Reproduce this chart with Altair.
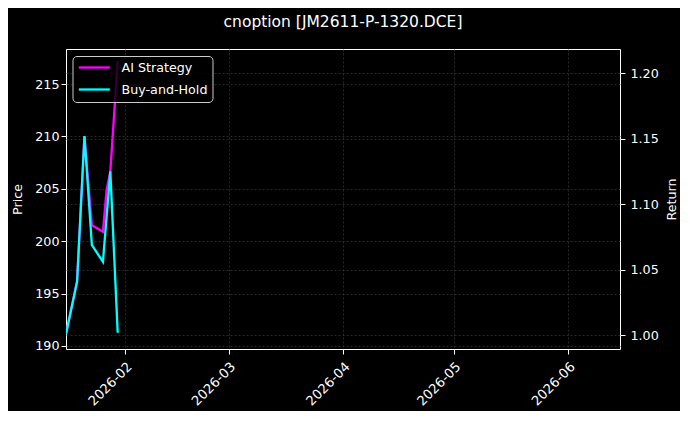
import altair as alt
import pandas as pd

# AI Strategy cumulative return
ai_dates = ["2026-01-16", "2026-01-19", "2026-01-21", "2026-01-23",
            "2026-01-26", "2026-01-27", "2026-01-28", "2026-01-30"]
ai_values = [1.001, 1.041, 1.152, 1.084, 1.079, 1.111, 1.125, 1.209]

# Buy-and-Hold cumulative return
bh_dates = ["2026-01-16", "2026-01-19", "2026-01-21", "2026-01-23",
            "2026-01-26", "2026-01-28", "2026-01-30"]
bh_values = [1.001, 1.041, 1.152, 1.069, 1.056, 1.125, 1.002]

series_names = ["AI Strategy", "Buy-and-Hold"]
series_colors = ["#ff00ff", "#00ffff"]

month_ticks = [2, 3, 4, 5, 6]

df = pd.concat([
    pd.DataFrame({"date": ai_dates, "value": ai_values, "series": series_names[0]}),
    pd.DataFrame({"date": bh_dates, "value": bh_values, "series": series_names[1]}),
], ignore_index=True)

FONT = "DejaVu Sans"
GRID = "#333333"

x_enc = alt.X(
    "date:T",
    scale=alt.Scale(
        type="utc",
        domain=[alt.DateTime(year=2026, month=1, date=16, utc=True),
                alt.DateTime(year=2026, month=6, date=15, utc=True)],
    ),
    axis=alt.Axis(
        values=[alt.DateTime(year=2026, month=m, date=1, utc=True) for m in month_ticks],
        labelExpr="utcFormat(datum.value, '%Y-%m')", labelAngle=-45, labelAlign="right",
        labelBaseline="top", title=None, grid=True, labelPadding=6,
        labelFontSize=13.2,
    ),
)

color_enc = alt.Color(
    "series:N",
    scale=alt.Scale(domain=series_names, range=series_colors),
    legend=alt.Legend(
        orient="none", legendX=6.5, legendY=7, title=None,
        symbolType="M-1,0H5", symbolSize=107, symbolStrokeWidth=2.3,
        labelFontSize=12.7, labelColor="white", labelFont=FONT,
        labelOffset=31, padding=5, rowPadding=8,
        strokeColor="#cccccc", fillColor="rgba(0,0,0,0.8)", cornerRadius=4,
    ),
)

ret_scale = alt.Scale(domain=[0.9896, 1.2183], nice=False, zero=False)
ret_axis = alt.Axis(orient="right", title="Return", values=[1.0, 1.05, 1.1, 1.15, 1.2],
                    format=".2f", grid=True, titlePadding=7, titleAngle=270,
                    titleBaseline="top", labelPadding=5)

base = alt.Chart(df)
ai_line = base.transform_filter(alt.datum.series == series_names[0]).mark_line(
    strokeWidth=2.3, clip=True
).encode(x=x_enc, y=alt.Y("value:Q", scale=ret_scale, axis=ret_axis), color=color_enc)
bh_line = base.transform_filter(alt.datum.series == series_names[1]).mark_line(
    strokeWidth=2.3, clip=True
).encode(x=x_enc, y=alt.Y("value:Q", scale=ret_scale, axis=ret_axis), color=color_enc)

returns = alt.layer(ai_line, bh_line)

price_axis_layer = alt.Chart(pd.DataFrame({"p": [200]})).mark_point(opacity=0).encode(
    y=alt.Y("p:Q", scale=alt.Scale(domain=[189.7, 218.35], nice=False, zero=False),
            axis=alt.Axis(orient="left", title="Price", values=[190, 195, 200, 205, 210, 215],
                          grid=True, titlePadding=10)),
)

chart = alt.layer(price_axis_layer, returns).resolve_scale(y="independent").properties(
    width=554, height=300,
    title=alt.TitleParams("cnoption [JM2611-P-1320.DCE]", fontSize=15.5, font=FONT,
                          fontWeight="normal", color="white", anchor="middle", offset=19),
    padding={"left": 58, "top": 41, "right": 60, "bottom": 62},
    autosize="none",
).configure(background="black").configure_view(
    fill="black", stroke="white", strokeWidth=1
).configure_axis(
    labelFont=FONT, titleFont=FONT, labelFontSize=12.7, titleFontSize=12.7,
    labelColor="white", titleColor="white", titleFontWeight="normal",
    tickColor="white", tickSize=5, domain=False,
    gridColor=GRID, gridDash=[2, 2], gridWidth=0.8,
)

chart.save("out.html", embed_options={"renderer": "svg", "actions": False})
